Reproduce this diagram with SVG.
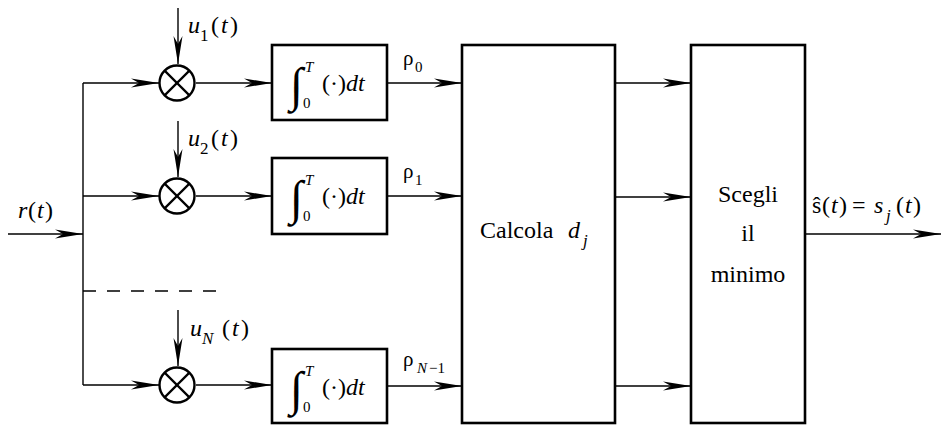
<svg xmlns="http://www.w3.org/2000/svg" width="942" height="425" viewBox="0 0 942 425">
<style>
  text { font-family: "Liberation Serif", "DejaVu Serif", serif; fill: #000; }
  .it { font-style: italic; }
  .box { fill: #fff; stroke: #000; stroke-width: 2.6; }
  .mul { fill: #fff; stroke: #000; stroke-width: 2.4; }
  .cross { stroke: #000; stroke-width: 2.2; }
  .wire { stroke: #000; stroke-width: 1.4; fill: none; }
  .arr { stroke: #000; stroke-width: 1.4; fill: none; marker-end: url(#ah); }
  .lab { font-size: 24px; }
  .sub { font-size: 17px; }
  .int { font-size: 48px; }
  .lim { font-size: 15px; }
  .rho { font-size: 21px; }
</style>
<defs>
  <marker id="ah" markerUnits="userSpaceOnUse" markerWidth="28" markerHeight="10" refX="28" refY="4.5" orient="auto" overflow="visible">
    <path d="M0,0 L28,4.5 L0,9 L8,4.5 Z" fill="#000"/>
  </marker>
</defs>

<g id="connectors">
  <line class="arr" x1="8" y1="234" x2="83" y2="234"/>
  <line class="wire" x1="83" y1="83" x2="83" y2="385"/>
  <line class="arr" x1="83" y1="83" x2="159" y2="83"/>
  <line class="arr" x1="83" y1="196" x2="159" y2="196"/>
  <line class="arr" x1="83" y1="385" x2="159" y2="385"/>
  <line class="wire" x1="83" y1="291" x2="217" y2="291" stroke-dasharray="13 11"/>
  <line class="arr" x1="178" y1="8" x2="178" y2="64"/>
  <line class="arr" x1="178" y1="121" x2="178" y2="177"/>
  <line class="arr" x1="178" y1="310" x2="178" y2="366"/>
  <line class="arr" x1="196" y1="83" x2="272" y2="83"/>
  <line class="arr" x1="196" y1="196" x2="272" y2="196"/>
  <line class="arr" x1="196" y1="385" x2="272" y2="385"/>
  <line class="arr" x1="387" y1="83" x2="462" y2="83"/>
  <line class="arr" x1="387" y1="196" x2="462" y2="196"/>
  <line class="arr" x1="387" y1="386" x2="462" y2="386"/>
  <line class="arr" x1="615" y1="83" x2="691" y2="83"/>
  <line class="arr" x1="615" y1="197" x2="691" y2="197"/>
  <line class="arr" x1="615" y1="386" x2="691" y2="386"/>
  <line class="arr" x1="805" y1="234" x2="941" y2="234"/>
</g>

<g id="labels">
  <text class="lab" y="218"><tspan class="it" x="18">r</tspan><tspan x="28">(</tspan><tspan class="it" x="37">t</tspan><tspan x="45">)</tspan></text>
  <text class="lab" y="33"><tspan class="it" x="188">u</tspan><tspan class="sub" x="200" y="41">1</tspan><tspan x="211" y="33">(</tspan><tspan class="it" x="221">t</tspan><tspan x="230">)</tspan></text>
  <text class="lab" y="146"><tspan class="it" x="188">u</tspan><tspan class="sub" x="200" y="154">2</tspan><tspan x="211" y="146">(</tspan><tspan class="it" x="221">t</tspan><tspan x="230">)</tspan></text>
  <text class="lab" y="336"><tspan class="it" x="190">u</tspan><tspan class="sub it" x="202" y="344">N</tspan><tspan x="222" y="336">(</tspan><tspan class="it" x="232">t</tspan><tspan x="241">)</tspan></text>
  <text class="rho" y="65"><tspan x="403">ρ</tspan><tspan class="lim" x="415" y="72">0</tspan></text>
  <text class="rho" y="178"><tspan x="403">ρ</tspan><tspan class="lim" x="415" y="185">1</tspan></text>
  <text class="rho" y="366"><tspan x="403">ρ</tspan><tspan class="lim it" x="417" y="373">N</tspan><tspan class="lim" x="429">−1</tspan></text>
  <text class="lab" y="213"><tspan x="812">ŝ</tspan><tspan x="822">(</tspan><tspan class="it" x="831">t</tspan><tspan x="839">)</tspan><tspan x="852">=</tspan><tspan class="it" x="874">s</tspan><tspan class="sub it" x="886" y="221">j</tspan><tspan x="896" y="213">(</tspan><tspan class="it" x="905">t</tspan><tspan x="913">)</tspan></text>
</g>

<g id="mult1" transform="translate(177,83)">
  <circle class="mul" r="17.5"/>
  <line class="cross" x1="-12.4" y1="-12.4" x2="12.4" y2="12.4"/>
  <line class="cross" x1="-12.4" y1="12.4" x2="12.4" y2="-12.4"/>
</g>
<g id="mult2" transform="translate(177,196)">
  <circle class="mul" r="17.5"/>
  <line class="cross" x1="-12.4" y1="-12.4" x2="12.4" y2="12.4"/>
  <line class="cross" x1="-12.4" y1="12.4" x2="12.4" y2="-12.4"/>
</g>
<g id="multN" transform="translate(177,385)">
  <circle class="mul" r="17.5"/>
  <line class="cross" x1="-12.4" y1="-12.4" x2="12.4" y2="12.4"/>
  <line class="cross" x1="-12.4" y1="12.4" x2="12.4" y2="-12.4"/>
</g>

<g id="int1" transform="translate(272,45)">
  <rect class="box" x="0" y="0" width="115" height="75"/>
  <text class="int" x="18" y="56">∫</text>
  <text class="lim it" x="33" y="27">T</text>
  <text class="lim" x="31" y="63">0</text>
  <text class="lab" y="46"><tspan x="50">(·)</tspan><tspan class="it">dt</tspan></text>
</g>
<g id="int2" transform="translate(272,158)">
  <rect class="box" x="0" y="0" width="115" height="76"/>
  <text class="int" x="18" y="56">∫</text>
  <text class="lim it" x="33" y="27">T</text>
  <text class="lim" x="31" y="63">0</text>
  <text class="lab" y="46"><tspan x="50">(·)</tspan><tspan class="it">dt</tspan></text>
</g>
<g id="intN" transform="translate(272,349)">
  <rect class="box" x="0" y="0" width="115" height="74"/>
  <text class="int" x="18" y="56">∫</text>
  <text class="lim it" x="33" y="27">T</text>
  <text class="lim" x="31" y="63">0</text>
  <text class="lab" y="46"><tspan x="50">(·)</tspan><tspan class="it">dt</tspan></text>
</g>

<g id="calcola">
  <rect class="box" x="462" y="45" width="153" height="378"/>
  <text class="lab" y="238"><tspan x="480">Calcola</tspan><tspan class="it" x="568">d</tspan><tspan class="sub it" x="583" y="246">j</tspan></text>
</g>

<g id="scegli">
  <rect class="box" x="691" y="45" width="114" height="378"/>
  <text class="lab" x="748" y="202" text-anchor="middle">Scegli</text>
  <text class="lab" x="748" y="241" text-anchor="middle">il</text>
  <text class="lab" x="748" y="282" text-anchor="middle">minimo</text>
</g>
</svg>
